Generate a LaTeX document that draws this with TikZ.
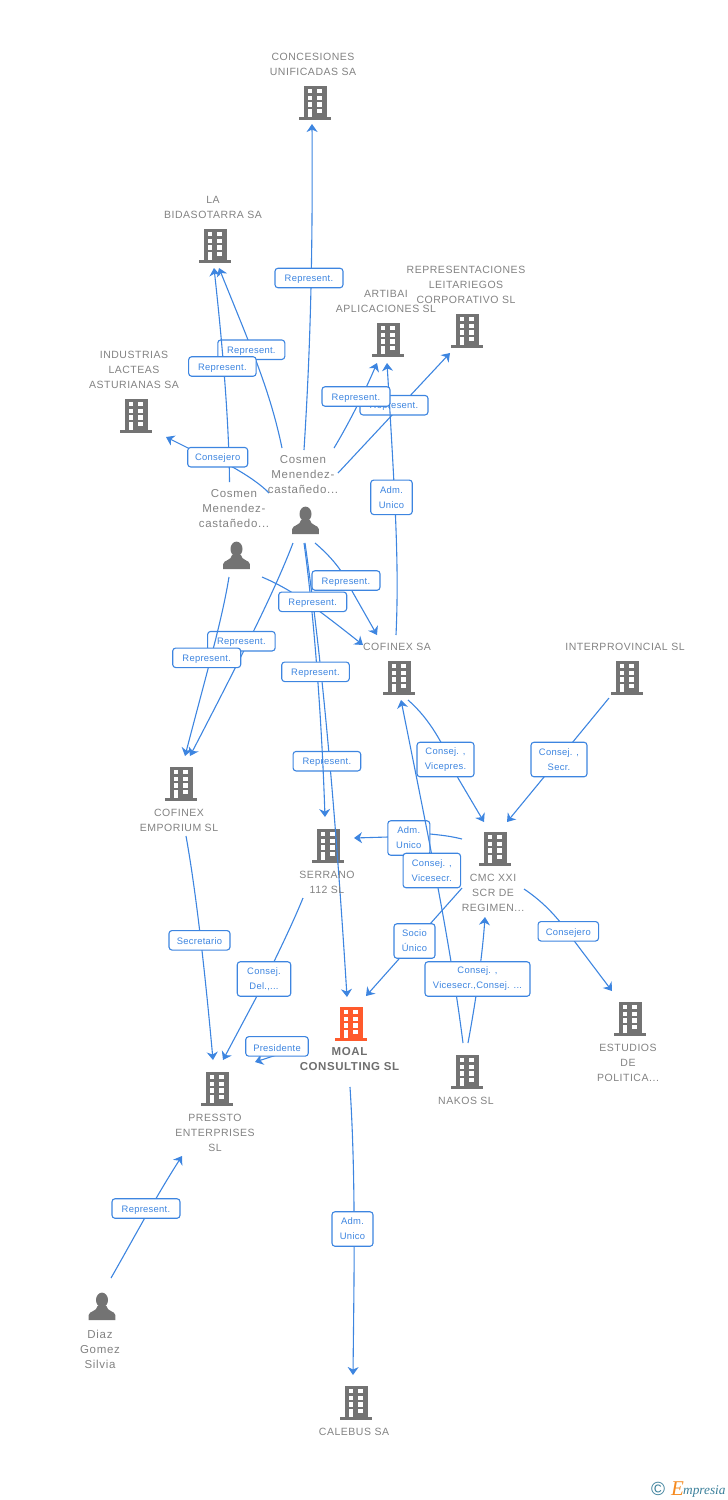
\documentclass[tikz,border=0pt]{standalone}
\usepackage{fontspec}
\setmainfont{Liberation Sans}
\newfontfamily\lab[LetterSpace=5]{Liberation Sans}
\newfontfamily\perlab[LetterSpace=6]{Liberation Sans}
\newfontfamily\pilf[LetterSpace=3]{Liberation Sans}
\newfontfamily\logof{Liberation Serif}
\usetikzlibrary{arrows.meta}
\definecolor{linkc}{HTML}{3D85E0}
\definecolor{iconc}{HTML}{737373}
\definecolor{labc}{HTML}{828282}
\definecolor{moalc}{HTML}{FF5A2C}
\definecolor{logot}{HTML}{3A7F9A}
\definecolor{logoo}{HTML}{F58A1F}
\tikzset{
  link/.style={draw=linkc,line width=1.1pt,-{Stealth[length=8pt,width=11pt,inset=2.5pt]}},
  pill/.style={draw=linkc,line width=1.1pt,fill=white,rounded corners=3pt,inner sep=0pt,minimum height=19.5pt,
    text=linkc,align=center,font=\pilf\fontsize{9.4}{15}\selectfont,execute at begin node={\rule{0pt}{9.4pt}}},
  pilltwo/.style={pill,minimum height=34.5pt},
  iconbox/.style={inner sep=0pt,minimum width=32pt,minimum height=34pt},
  entname/.style={text=labc,align=center,inner sep=0pt,yshift=-0.8pt,font=\lab\fontsize{10.5}{15}\selectfont},
  pname/.style={text=labc,align=center,inner sep=0pt,yshift=-0.8pt,font=\perlab\fontsize{11.5}{15}\selectfont},
  mainname/.style={text=labc!85!black,align=center,inner sep=0pt,yshift=-0.8pt,font=\lab\bfseries\fontsize{11.5}{15}\selectfont},
  pics/bldg/.style={code={
    \fill[#1] (-11,-16) rectangle (12,15);
    \fill[#1] (-16,14.5) rectangle (16,17.5);
    \fill[white] (-7.3,-13) rectangle (-2.7,-9);
    \fill[white] (2.3,-13) rectangle (7.3,-9);
    \fill[white] (-7.3,-6.3) rectangle (-2.7,-2.2);
    \fill[white] (2.3,-6.3) rectangle (7.3,-2.2);
    \fill[white] (-7.3,0.3) rectangle (-2.7,4.5);
    \fill[white] (2.3,0.3) rectangle (7.3,4.5);
    \fill[white] (-7.3,7) rectangle (-2.7,14.5);
    \fill[white] (2.3,7) rectangle (7.3,11.3);
  }},
  pics/pers/.style={code={
    \fill[iconc] (0,-7) ellipse [x radius=6,y radius=7.4];
    \fill[iconc] (-13.3,13) -- (-13.3,8) .. controls (-13,4) and (-5,4.5) .. (-4.5,-1) -- (4.5,-1)
      .. controls (5,4.5) and (13,4) .. (13.3,8) -- (13.3,13) -- cycle;
  }},
}
\begin{document}
\begin{tikzpicture}[x=1pt,y=-1pt]
\useasboundingbox (0,0) rectangle (728,1500);

% entity icons
\node[iconbox] (concesiones) at (315,102) {};
\node[iconbox] (bidasotarra) at (215,245) {};
\node[iconbox] (artibai) at (388,339) {};
\node[iconbox] (representaciones) at (467,330) {};
\node[iconbox] (industrias) at (136,415) {};
\node[iconbox] (cofinexsa) at (399,677) {};
\node[iconbox] (interprovincial) at (627,677) {};
\node[iconbox] (emporium) at (181,783) {};
\node[iconbox] (serrano) at (328,845) {};
\node[iconbox] (cmc) at (495,848) {};
\node[iconbox] (moal) at (351,1023) {};
\node[iconbox] (nakos) at (467,1071) {};
\node[iconbox] (estudios) at (630,1018) {};
\node[iconbox] (pressto) at (217,1088) {};
\node[iconbox] (calebus) at (356,1402) {};
\node[iconbox] (upper) at (305.5,521) {};
\node[iconbox] (lower) at (236.5,556) {};
\node[iconbox] (diaz) at (102,1307) {};

\foreach \n in {concesiones,bidasotarra,artibai,representaciones,industrias,cofinexsa,interprovincial,emporium,serrano,cmc,nakos,estudios,pressto,calebus}
  {\pic at (\n) {bldg=iconc};}
\pic at (moal) {bldg=moalc};
\foreach \n in {upper,lower,diaz} {\pic at (\n) {pers};}

% connector ends
\coordinate (a1) at (304,450);   \coordinate (b1) at (312,124);
\coordinate (a2) at (282,448);   \coordinate (b2) at (219,268);
\coordinate (a3) at (229.5,482); \coordinate (b3) at (214,268);
\coordinate (a4) at (269,493);   \coordinate (b4) at (166,437);
\coordinate (a5) at (334,448);   \coordinate (b5) at (377,363);
\coordinate (a6) at (338,473);   \coordinate (b6) at (450,353);
\coordinate (a7) at (396,635);   \coordinate (b7) at (387,363);
\coordinate (a8) at (315,543);   \coordinate (b8) at (377,635);
\coordinate (a9) at (262,577);   \coordinate (b9) at (363,645);
\coordinate (a10) at (293,543);  \coordinate (b10) at (190,756);
\coordinate (a11) at (229,577);  \coordinate (b11) at (185,756);
\coordinate (a12) at (305,543);  \coordinate (b12) at (347,997);
\coordinate (a13) at (304,543);  \coordinate (b13) at (325,817);
\coordinate (a14) at (408,700);  \coordinate (b14) at (484,822);
\coordinate (a15) at (609,698);  \coordinate (b15) at (507,822);
\coordinate (a16) at (462,839);  \coordinate (b16) at (354,838);
\coordinate (a17) at (463,1043); \coordinate (b17) at (401,700);
\coordinate (a18) at (468,1043); \coordinate (b18) at (485,917);
\coordinate (a19) at (462,888);  \coordinate (b19) at (366,996);
\coordinate (a20) at (524,889);  \coordinate (b20) at (612,991);
\coordinate (a21) at (303,898);  \coordinate (b21) at (223,1060);
\coordinate (a22) at (292,1050); \coordinate (b22) at (255,1062);
\coordinate (a23) at (186,836);  \coordinate (b23) at (213,1060);
\coordinate (a24) at (350,1087); \coordinate (b24) at (353,1375);
\coordinate (a25) at (111,1278); \coordinate (b25) at (182,1156);

% connectors and their labels, in stacking order
\draw[link] (a1) .. controls (309,370) and (313,280) .. (b1);
\node[pill,minimum width=68pt] (p1) at (309,278) {Represent.};

\draw[link] (a2) .. controls (270,390) and (250,345) .. (b2);
\node[pill,minimum width=67pt] (p2) at (251.3,349.7) {Represent.};

\draw[link] (a3) .. controls (229,420) and (222,340) .. (b3);
\node[pill,minimum width=67.5pt] (p3) at (222.4,366.5) {Represent.};

\draw[link] (a4) .. controls (255,478) and (215,455) .. (188,448) -- (b4);
\node[pill,minimum width=60pt] (p4) at (217.7,457.2) {Consejero};

\draw[link] (a6) -- (b6);
\node[pill,minimum width=68pt] (p6) at (394,405.2) {Represent.};

\draw[link] (a7) .. controls (399,570) and (396,510) .. (b7);
\node[pilltwo,minimum width=41.5pt] (p7) at (391.5,497.3) {Adm.\\Unico};

\draw[link] (a5) .. controls (345,430) and (362,398) .. (b5);
\node[pill,minimum width=68pt] (p5) at (356,396.5) {Represent.};

\draw[link] (a8) .. controls (335,560) and (345,575) .. (352,591) -- (b8);
\node[pill,minimum width=68pt] (p8) at (346,580.5) {Represent.};

\draw[link] (a12) .. controls (316,620) and (331,740) .. (b12);
\node[pill,minimum width=67.7pt] (p12) at (326.9,761.2) {Represent.};

\draw[link] (a13) .. controls (312,600) and (321,700) .. (b13);
\node[pill,minimum width=67.6pt] (p13) at (315.5,671.8) {Represent.};

\draw[link] (a9) .. controls (290,589) and (310,603) .. (b9);
\node[pill,minimum width=68pt] (p9) at (312.7,601.8) {Represent.};

\draw[link] (a10) .. controls (275,590) and (245,650) .. (b10);
\node[pill,minimum width=67.5pt] (p10) at (241.4,641.2) {Represent.};

\draw[link] (a11) .. controls (222,620) and (208,668) .. (b11);
\node[pill,minimum width=68pt] (p11) at (206.7,657.8) {Represent.};

\draw[link] (a14) .. controls (425,715) and (440,735) .. (458,778) -- (b14);
\node[pilltwo,minimum width=57pt] (p14) at (445.5,759.5) {Consej. ,\\Vicepres.};

\draw[link] (a15) -- (b15);
\node[pilltwo,minimum width=56pt] (p15) at (559,759.5) {Consej. ,\\Secr.};

\draw[link] (a16) .. controls (450,836) and (440,835) .. (430,834) -- (388,837) -- (b16);
\node[pilltwo,minimum width=42pt] (p16) at (408.8,838) {Adm.\\Unico};

\draw[link] (a17) .. controls (450,940) and (425,820) .. (b17);
\node[pilltwo,minimum width=57.5pt] (p17) at (431.8,870.5) {Consej. ,\\Vicesecr.};

\draw[link] (a18) .. controls (475,1005) and (482,960) .. (b18);
\node[pilltwo,minimum width=105pt] (p18) at (477.5,979) {Consej. ,\\Vicesecr.,Consej. ...};

\draw[link] (a19) -- (b19);
\node[pilltwo,minimum width=41pt] (p19) at (414.5,941) {Socio\\Único};

\draw[link] (a20) .. controls (545,903) and (560,920) .. (575,942) -- (b20);
\node[pill,minimum width=60.5pt] (p20) at (568.3,931.3) {Consejero};

\draw[link] (a21) .. controls (292,925) and (275,960) .. (257,996) -- (b21);
\node[pilltwo,minimum width=53.5pt] (p21) at (264,979) {Consej.\\Del.,...};

\draw[link] (a22) -- (b22);
\node[pill,minimum width=62.5pt] (p22) at (277,1046.4) {Presidente};

\draw[link] (a23) .. controls (194,880) and (203,950) .. (b23);
\node[pill,minimum width=61pt] (p23) at (199.5,940.3) {Secretario};

\draw[link] (a24) .. controls (356,1180) and (354,1280) .. (b24);
\node[pilltwo,minimum width=41pt] (p24) at (352.5,1229) {Adm.\\Unico};

\draw[link] (a25) .. controls (130,1245) and (155,1198) .. (b25);
\node[pill,minimum width=68pt] (p25) at (146,1208.5) {Represent.};

% entity names
\node[entname] (concesiones-n) at (313,63.5) {CONCESIONES\\UNIFICADAS SA};
\node[entname] (bidasotarra-n) at (213,206.5) {LA\\BIDASOTARRA SA};
\node[entname] (artibai-n) at (386,300.5) {ARTIBAI\\APLICACIONES SL};
\node[entname] (representaciones-n) at (466,284) {REPRESENTACIONES\\LEITARIEGOS\\CORPORATIVO SL};
\node[entname] (industrias-n) at (134,369) {INDUSTRIAS\\LACTEAS\\ASTURIANAS SA};
\node[pname] (upper-n) at (303,474) {Cosmen\\Menendez-\\castañedo...};
\node[pname] (lower-n) at (234,508) {Cosmen\\Menendez-\\castañedo...};
\node[entname] (cofinexsa-n) at (397,646) {COFINEX SA};
\node[entname] (interprovincial-n) at (625,646) {INTERPROVINCIAL SL};
\node[entname] (emporium-n) at (179,819.5) {COFINEX\\EMPORIUM SL};
\node[entname] (serrano-n) at (327,881.5) {SERRANO\\112 SL};
\node[entname] (cmc-n) at (493,892) {CMC XXI\\SCR DE\\REGIMEN...};
\node[mainname] (moal-n) at (349.5,1058.5) {MOAL\\CONSULTING SL};
\node[entname] (nakos-n) at (466,1100) {NAKOS SL};
\node[entname] (estudios-n) at (628,1062) {ESTUDIOS\\DE\\POLITICA...};
\node[entname] (pressto-n) at (215,1132) {PRESSTO\\ENTERPRISES\\SL};
\node[pname] (diaz-n) at (100,1349) {Diaz\\Gomez\\Silvia};
\node[entname] (calebus-n) at (354,1431) {CALEBUS SA};

% credit
\node[text=logot,inner sep=0pt,font=\fontsize{19}{19}\selectfont] (copy) at (658,1489) {©};
\node[text=logoo,inner sep=0pt,anchor=base west,font=\logof\itshape\fontsize{21}{21}\selectfont] (logoe) at (671,1495) {E};
\node[text=logot,inner sep=0pt,anchor=base west,font=\logof\itshape\fontsize{13.3}{13}\selectfont] (logotx) at (683,1494) {mpresia};
\end{tikzpicture}
\end{document}
